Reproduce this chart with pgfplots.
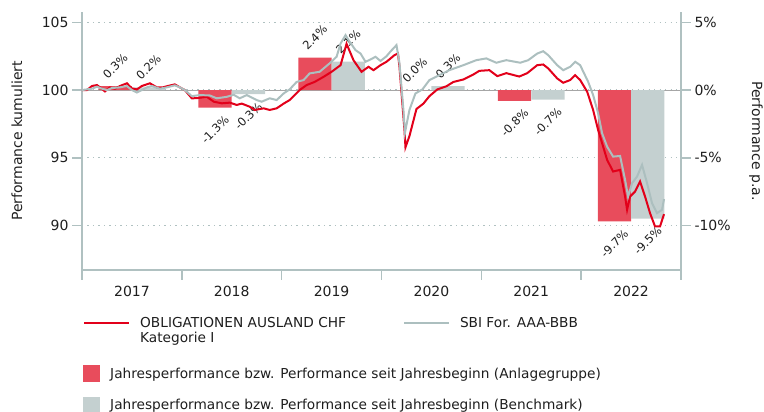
\documentclass[border=0pt]{standalone}
\usepackage{pgfplots}
\usepackage{pgfplotstable}
\pgfplotsset{compat=1.18}
\usepackage{fontspec}
\setmainfont{DejaVu Sans}
\definecolor{fundred}{RGB}{226,0,26}
\definecolor{benchgray}{RGB}{172,191,191}
\definecolor{barred}{RGB}{232,76,92}
\definecolor{bargray}{RGB}{196,208,208}
\definecolor{axcol}{RGB}{176,193,193}
\definecolor{txt}{RGB}{30,30,30}
\tikzset{lbl/.style={font=\fontsize{11.5}{13}\selectfont, text=txt}}

\pgfplotstableread{
x y
2017.00 100.00
2017.05 100.00
2017.10 100.30
2017.15 100.37
2017.18 100.20
2017.23 99.90
2017.28 100.20
2017.33 100.10
2017.38 100.30
2017.45 100.50
2017.50 100.12
2017.55 100.05
2017.60 100.30
2017.68 100.50
2017.75 100.20
2017.81 100.20
2017.86 100.30
2017.93 100.42
2017.98 100.20
2018.03 100.00
2018.10 99.39
2018.15 99.40
2018.25 99.50
2018.32 99.14
2018.40 99.02
2018.48 99.07
2018.55 98.90
2018.60 99.00
2018.68 98.77
2018.73 98.53
2018.82 98.65
2018.88 98.53
2018.95 98.65
2019.02 99.00
2019.08 99.26
2019.13 99.63
2019.18 100.00
2019.25 100.37
2019.33 100.60
2019.42 100.98
2019.50 101.35
2019.59 101.84
2019.65 103.42
2019.72 102.20
2019.80 101.35
2019.87 101.72
2019.92 101.47
2019.99 101.84
2020.05 102.09
2020.13 102.58
2020.165 102.70
2020.18 101.72
2020.23 97.05
2020.24 95.77
2020.28 96.60
2020.35 98.60
2020.42 99.00
2020.48 99.55
2020.56 100.05
2020.65 100.28
2020.72 100.60
2020.82 100.78
2020.92 101.15
2020.98 101.42
2021.08 101.47
2021.16 101.03
2021.25 101.25
2021.38 101.00
2021.46 101.25
2021.56 101.84
2021.62 101.89
2021.67 101.60
2021.76 100.86
2021.82 100.54
2021.89 100.74
2021.94 101.10
2021.99 100.74
2022.06 99.88
2022.12 98.53
2022.17 97.05
2022.21 96.07
2022.26 94.84
2022.32 93.98
2022.39 94.10
2022.44 92.13
2022.46 91.15
2022.49 92.13
2022.54 92.50
2022.59 93.24
2022.64 92.13
2022.69 90.90
2022.74 89.92
2022.79 89.92
2022.83 90.83
}\fund

\pgfplotstableread{
x y
2017.00 100.00
2017.05 100.05
2017.10 100.10
2017.15 100.25
2017.20 100.10
2017.25 100.00
2017.30 100.15
2017.38 100.20
2017.45 100.30
2017.50 100.00
2017.55 99.82
2017.60 100.00
2017.65 100.20
2017.70 100.30
2017.78 100.10
2017.85 100.20
2017.93 100.35
2017.98 100.20
2018.03 100.00
2018.10 99.55
2018.18 99.63
2018.28 99.60
2018.35 99.39
2018.45 99.50
2018.52 99.65
2018.58 99.39
2018.65 99.63
2018.75 99.26
2018.80 99.14
2018.88 99.39
2018.95 99.26
2019.02 99.75
2019.08 100.05
2019.15 100.60
2019.22 100.74
2019.28 101.23
2019.38 101.35
2019.48 101.97
2019.55 102.46
2019.59 103.44
2019.64 104.06
2019.67 103.69
2019.74 102.95
2019.79 102.70
2019.84 102.09
2019.89 102.26
2019.94 102.46
2019.99 102.15
2020.05 102.50
2020.09 102.85
2020.15 103.32
2020.18 102.00
2020.22 98.50
2020.235 96.85
2020.28 98.53
2020.34 99.75
2020.41 100.05
2020.48 100.74
2020.58 101.10
2020.68 101.47
2020.82 101.84
2020.95 102.21
2021.05 102.34
2021.15 102.02
2021.25 102.21
2021.39 102.02
2021.47 102.21
2021.56 102.70
2021.62 102.87
2021.67 102.58
2021.76 101.84
2021.82 101.47
2021.89 101.72
2021.94 102.09
2021.99 101.84
2022.07 100.61
2022.12 99.63
2022.17 98.28
2022.21 96.80
2022.26 95.82
2022.32 95.08
2022.39 95.13
2022.44 93.36
2022.47 92.13
2022.51 93.12
2022.56 93.61
2022.61 94.47
2022.66 93.12
2022.71 91.64
2022.76 90.90
2022.81 91.15
2022.83 91.94
}\bench

\begin{document}
\begin{tikzpicture}
\useasboundingbox (-82pt,-142pt) rectangle (682pt,270pt);
\pgfplotsset{
  base/.style={width=599pt, height=258pt, scale only axis, xmin=2017, xmax=2023,
    /pgf/number format/assume math mode=true,
    tick label style={font=\fontsize{14}{16}\selectfont, color=txt},
    label style={font=\fontsize{14}{16}\selectfont, color=txt}},
}
% Axis A: left axis, x axis, grid
\begin{axis}[base, ymin=86.70, ymax=105.77,
  axis x line*=bottom, axis y line*=left,
  axis line style={axcol, line width=2pt},
  tick align=outside,
  major tick length=10pt,
  tick style={axcol, line width=1.6pt},
  ytick={90,95,100,105},
  ymajorgrids,
  major grid style={axcol, line width=1.3pt, dash pattern=on 1.3pt off 4.2pt},
  extra y ticks={100}, extra y tick labels={},
  extra y tick style={major grid style={solid, color=black!35, line width=0.7pt}, major tick length=0pt},
  xtick={2017,2018,2019,2020,2021,2022,2023},
  x tick label as interval,
  xticklabel={\pgfmathprintnumber[1000 sep={}]{\tick}},
  xticklabel style={yshift=-3pt},
  ylabel={Performance kumuliert},
  ylabel style={at={(axis description cs:-0.1085,0.5)}, anchor=center},
]
\addplot[draw=none, forget plot] coordinates {(2017,100)};
\end{axis}
% Axis B: bars and right axis
\begin{axis}[base, ymin=-13.30, ymax=5.77,
  axis x line=none, axis y line*=right,
  axis line style={axcol, line width=2pt},
  tick align=outside,
  major tick length=10pt,
  tick style={axcol, line width=1.6pt},
  ytick={-10,-5,0,5},
  yticklabel={\pgfmathprintnumber{\tick}\%},
  ylabel={Performance p.a.},
  ylabel style={at={(axis description cs:1.125,0.5)}, anchor=center, rotate=180},
  nodes near coords={\pgfmathprintnumber[fixed,fixed zerofill,precision=1,assume math mode=true]{\pgfplotspointmeta}\%},
  legend style={at={(axis description cs:0.0017,-0.3682)}, anchor=north west, draw=none, fill=none,
    font=\fontsize{13.7}{16}\selectfont, text=txt, legend columns=1, row sep=14.5pt, inner sep=0pt},
  legend cell align=left,
]
\addplot[ybar, bar width=0.3333, bar shift=0pt, fill=barred, draw=none,
  every node near coord/.append style={lbl, anchor=center, yshift=20pt, rotate=45},
  legend image code/.code={\fill[barred] (0pt,-8.5pt) rectangle (17pt,8.5pt); \path (25pt,0pt);}]
  coordinates {(2017.3333,0.3) (2019.3333,2.4) (2020.3333,0.0)};
\addlegendentry{Jahresperformance bzw. Performance seit Jahresbeginn (Anlagegruppe)}
\addplot[ybar, bar width=0.3333, bar shift=0pt, fill=bargray, draw=none,
  every node near coord/.append style={lbl, anchor=center, yshift=20pt, rotate=45},
  legend image code/.code={\fill[bargray] (0pt,-8.5pt) rectangle (17pt,8.5pt); \path (25pt,0pt);}]
  coordinates {(2017.6667,0.2) (2019.6667,2.1) (2020.6667,0.3)};
\addlegendentry{Jahresperformance bzw. Performance seit Jahresbeginn (Benchmark)}
\addplot[ybar, bar width=0.3333, bar shift=0pt, fill=barred, draw=none, forget plot,
  every node near coord/.append style={lbl, anchor=center, yshift=-22pt, rotate=45}]
  coordinates {(2018.3333,-1.3) (2021.3333,-0.8) (2022.3333,-9.7)};
\addplot[ybar, bar width=0.3333, bar shift=0pt, fill=bargray, draw=none, forget plot,
  every node near coord/.append style={lbl, anchor=center, yshift=-22pt, rotate=45}]
  coordinates {(2018.6667,-0.3) (2021.6667,-0.7) (2022.6667,-9.5)};
\end{axis}
% Axis C: lines
\begin{axis}[base, ymin=86.70, ymax=105.77, hide axis,
  legend style={at={(axis description cs:0.0017,-0.1745)}, anchor=north west, draw=none, fill=none,
    font=\fontsize{13.7}{14.5}\selectfont, text=txt, legend columns=2, inner sep=0pt,
    /tikz/every even column/.append style={column sep=55pt}},
  legend cell align=left,
  legend image code/.code={\draw[#1] (0pt,0pt) -- (45pt,0pt); \path (53pt,0pt);},
]
\addplot[fundred, line width=2pt] table[x=x, y=y] {\fund};
\addlegendentry{\begin{tabular}[t]{@{}l@{}}OBLIGATIONEN AUSLAND CHF\\Kategorie I\end{tabular}}
\addplot[benchgray, line width=2pt] table[x=x, y=y] {\bench};
\addlegendentry{SBI For. AAA-BBB}
\end{axis}
\end{tikzpicture}
\end{document}
